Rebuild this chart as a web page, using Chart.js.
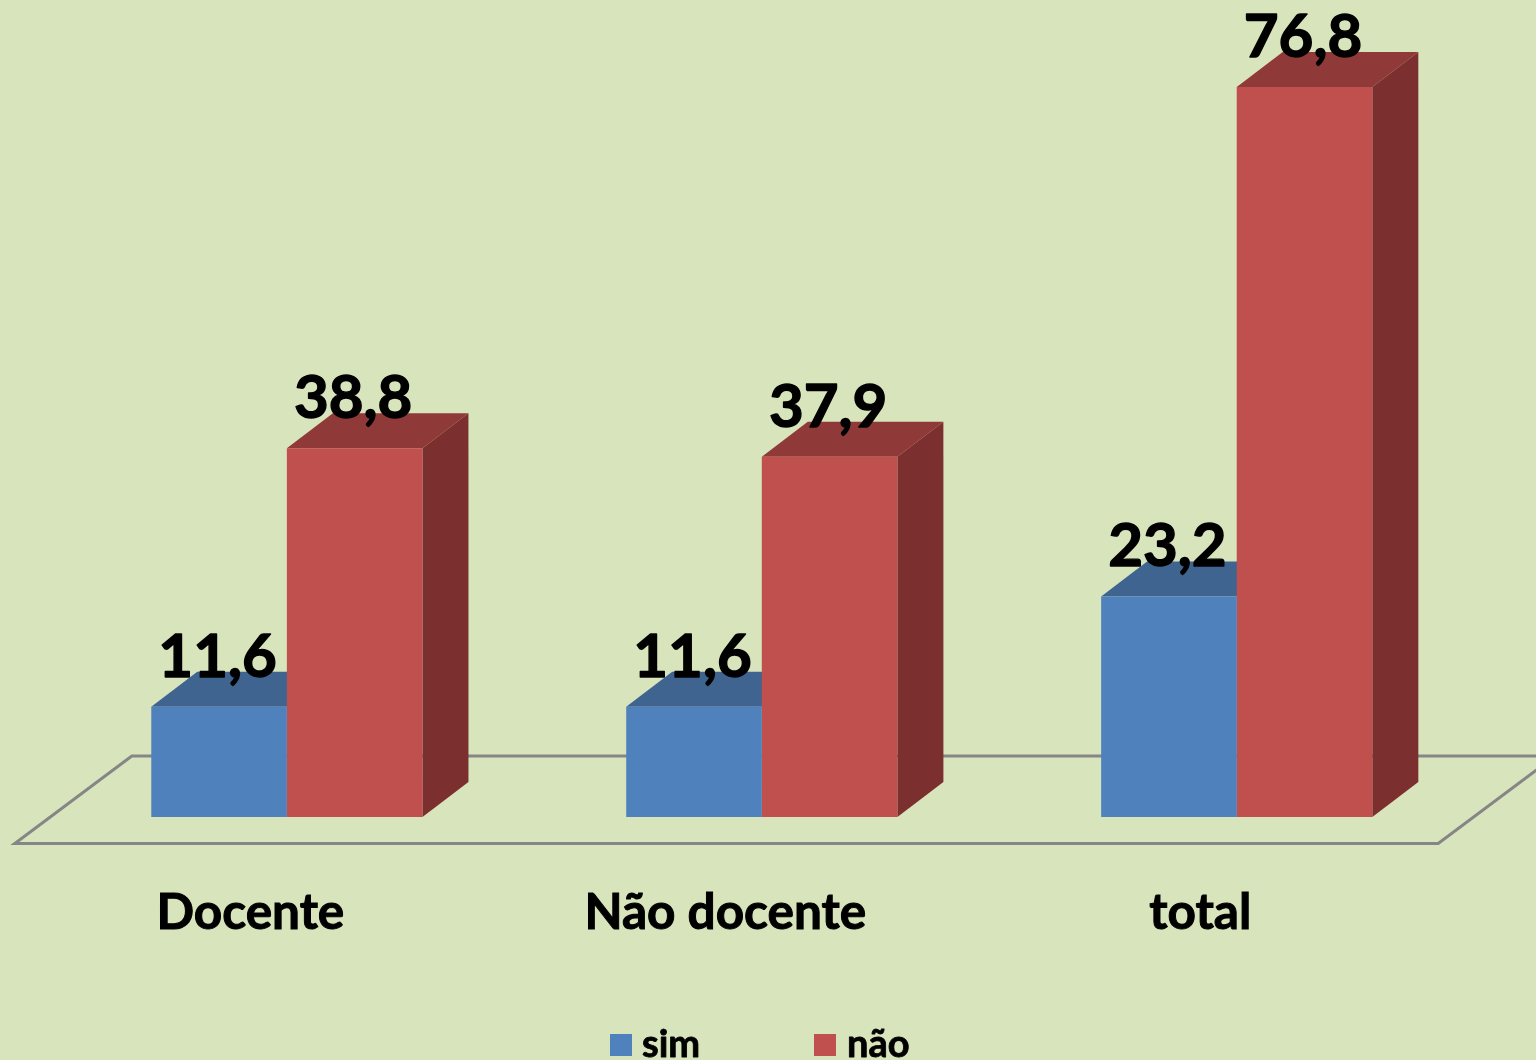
<!DOCTYPE html>
<html><head><meta charset="utf-8">
<style>html,body{margin:0;padding:0;background:#D8E4BC;overflow:hidden}canvas{display:block}</style>
<script src="https://cdn.jsdelivr.net/npm/chart.js@4"></script></head>
<body><div style="width:1536px;height:1060px;position:relative"><canvas id="c"></canvas></div>
<script>
const categories = ['Docente', 'Não docente', 'total'];
const simValues = [11.6, 11.6, 23.2];
const naoValues = [38.8, 37.9, 76.8];
const seriesNames = ['sim', 'não'];
const valueLabels = v => v.toFixed(1).replace('.', ',');

const FRONT = ['#4F81BD', '#C0504D'];
const TOP = ['#3F6490', '#8F3A38'];
const SIDE = ['#345378', '#7B2F2E'];
const DX = 46, DY = 35;
const FONT = 'Lato, Carlito, sans-serif';

const plugin3d = {
  id: 'plugin3d',
  beforeDatasetsDraw(chart) {
    const ctx = chart.ctx, a = chart.chartArea, base = chart.scales.y.getPixelForValue(0);
    const fl = a.left - 34.6, fr = a.right - 36, by = base - 61, fy = base + 26.5;
    ctx.save();
    ctx.strokeStyle = '#868686'; ctx.lineWidth = 3; ctx.lineJoin = 'miter';
    ctx.beginPath();
    ctx.moveTo(fr + 117, by); ctx.lineTo(fl + 117, by); ctx.lineTo(fl, fy); ctx.lineTo(fr, fy); ctx.lineTo(fr + 117, by);
    ctx.stroke();
    chart.data.datasets.forEach((ds, i) => {
      chart.getDatasetMeta(i).data.forEach(b => {
        const l = b.x - b.width / 2, r = b.x + b.width / 2, t = b.y;
        ctx.fillStyle = TOP[i];
        ctx.beginPath(); ctx.moveTo(l, t); ctx.lineTo(r, t); ctx.lineTo(r + DX, t - DY); ctx.lineTo(l + DX, t - DY); ctx.closePath(); ctx.fill();
        ctx.fillStyle = SIDE[i];
        ctx.beginPath(); ctx.moveTo(r, t); ctx.lineTo(r + DX, t - DY); ctx.lineTo(r + DX, base - DY); ctx.lineTo(r, base); ctx.closePath(); ctx.fill();
      });
    });
    ctx.restore();
  },
  afterDatasetsDraw(chart) {
    const ctx = chart.ctx;
    ctx.save();
    ctx.fillStyle = '#000'; ctx.strokeStyle = '#000'; ctx.lineJoin = 'round';
    ctx.font = 'bold 60px ' + FONT; ctx.textAlign = 'center'; ctx.textBaseline = 'alphabetic';
    ctx.lineWidth = 1.4;
    chart.data.datasets.forEach((ds, i) => {
      chart.getDatasetMeta(i).data.forEach((b, j) => {
        ctx.fillText(valueLabels(ds.data[j]), b.x - 1.5, b.y - 30);
        ctx.strokeText(valueLabels(ds.data[j]), b.x - 1.5, b.y - 30);
      });
    });
    // legend
    const items = [[610, 642], [814, 847]];
    ctx.font = 'bold 38px ' + FONT; ctx.textAlign = 'left'; ctx.lineWidth = 0.8;
    chart.data.datasets.forEach((ds, i) => {
      ctx.fillStyle = ds.backgroundColor;
      ctx.fillRect(items[i][0], 1034, 22, 22);
      ctx.fillStyle = '#000';
      ctx.fillText(ds.label, items[i][1], 1057);
      ctx.strokeText(ds.label, items[i][1], 1057);
    });
    ctx.restore();
  }
};

new Chart(document.getElementById('c'), {
  type: 'bar',
  data: {
    labels: categories,
    datasets: [
      { label: seriesNames[0], data: simValues, backgroundColor: FRONT[0] },
      { label: seriesNames[1], data: naoValues, backgroundColor: FRONT[1] }
    ]
  },
  options: {
    responsive: true, maintainAspectRatio: false, animation: false,
    layout: { padding: { left: 49.4, right: 61.8, top: 56.6, bottom: 0 } },
    datasets: { bar: { barPercentage: 1, categoryPercentage: 0.571, borderWidth: 0 } },
    plugins: { legend: { display: false }, tooltip: { enabled: false }, title: { display: false } },
    scales: {
      x: {
        afterFit(s) { s.height = 243; },
        grid: { display: false, drawTicks: false }, border: { display: false },
        ticks: { color: '#000', font: { family: FONT, weight: 'bold', size: 49.5 }, padding: 66, labelOffset: -36.5, maxRotation: 0, textStrokeColor: '#000', textStrokeWidth: 1 }
      },
      y: { display: false, min: 0, max: 80 }
    }
  },
  plugins: [plugin3d]
});
</script></body></html>
